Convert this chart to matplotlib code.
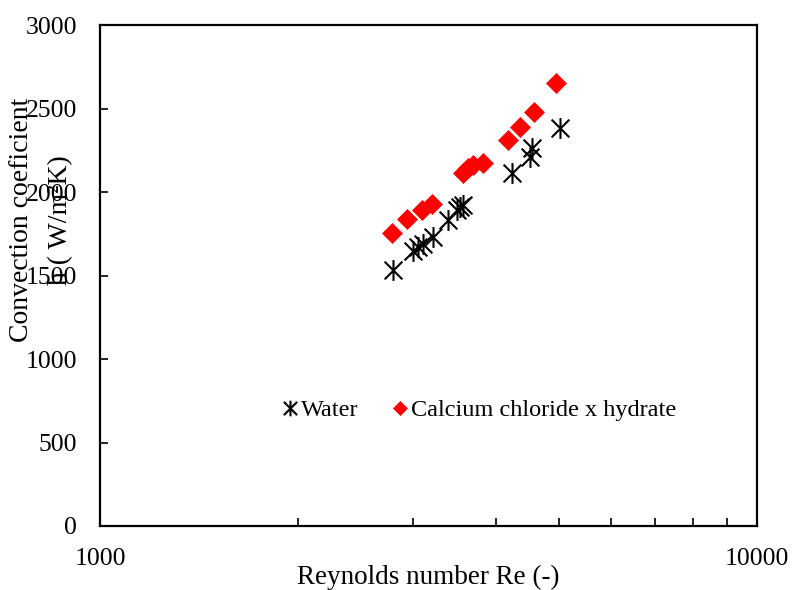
import matplotlib
matplotlib.use("Agg")
import matplotlib.pyplot as plt
from matplotlib.path import Path
from matplotlib.ticker import FixedLocator, NullFormatter, FixedFormatter

plt.rcParams['font.family'] = ['Liberation Serif', 'DejaVu Serif']

water_re = [2795, 2998, 3048, 3102, 3216, 3389, 3491, 3532, 3573, 4233, 4512, 4539, 5014]
water_h = [1530, 1647, 1671, 1689, 1731, 1832, 1892, 1910, 1922, 2112, 2211, 2262, 2382]

cacl_re = [2780, 2930, 3087, 3198, 3573, 3632, 3696, 3828, 4174, 4358, 4582, 4944]
cacl_h = [1753, 1837, 1892, 1928, 2112, 2144, 2162, 2175, 2311, 2391, 2481, 2651]

y_ticks = [0, 500, 1000, 1500, 2000, 2500, 3000]
x_major = [1000, 10000]
x_minor = [2000, 3000, 4000, 5000, 6000, 7000, 8000, 9000]

star = Path([(0, -1), (0, 1), (-0.85, -0.85), (0.85, 0.85), (-0.85, 0.85), (0.85, -0.85)],
            [Path.MOVETO, Path.LINETO, Path.MOVETO, Path.LINETO, Path.MOVETO, Path.LINETO])

fig = plt.figure(figsize=(7.93, 5.90), dpi=100)
ax = fig.add_axes([100/793, 64/590, 657/793, 501/590])

ax.plot(water_re, water_h, linestyle='none', marker=star, markersize=15,
        markeredgecolor='black', markerfacecolor='none', markeredgewidth=1.5, label='Water')
ax.plot(cacl_re, cacl_h, linestyle='none', marker='D', markersize=10,
        markeredgecolor='#ff0000', markerfacecolor='#ff0000', markeredgewidth=0.5,
        label='Calcium chloride x hydrate')

ax.set_xscale('log')
ax.set_xlim(1000, 10000)
ax.set_ylim(0, 3000)

ax.xaxis.set_major_locator(FixedLocator(x_major))
ax.xaxis.set_major_formatter(FixedFormatter([str(v) for v in x_major]))
ax.xaxis.set_minor_locator(FixedLocator(x_minor))
ax.xaxis.set_minor_formatter(NullFormatter())
ax.set_yticks(y_ticks)
ax.set_yticklabels([str(v) for v in y_ticks])

ax.tick_params(axis='x', which='both', direction='in', length=6, width=1.2, labelsize=18.5, pad=16)
ax.tick_params(axis='y', which='both', direction='in', length=6, width=1.2, labelsize=18.5, pad=16.5)

for s in ax.spines.values():
    s.set_linewidth(1.6)

fig.text(428/793, 1 - 577/590, 'Reynolds number Re (-)', fontsize=19.5,
         ha='center', va='center')

fig.text(22/793, 1 - 220/590, 'Convection coeficient', rotation=90, fontsize=20,
         ha='center', va='center')
fig.text(61/793, 1 - 220/590, 'h ( W/m²K)', rotation=90, fontsize=20,
         ha='center', va='center')

ax.legend(loc='center', bbox_to_anchor=(0.578, 0.2315), ncol=2, frameon=False,
          fontsize=17.5, handlelength=0.6, handletextpad=0.15, columnspacing=1.4,
          borderpad=0, markerscale=0.75)

fig.savefig('out.png', dpi=100)
